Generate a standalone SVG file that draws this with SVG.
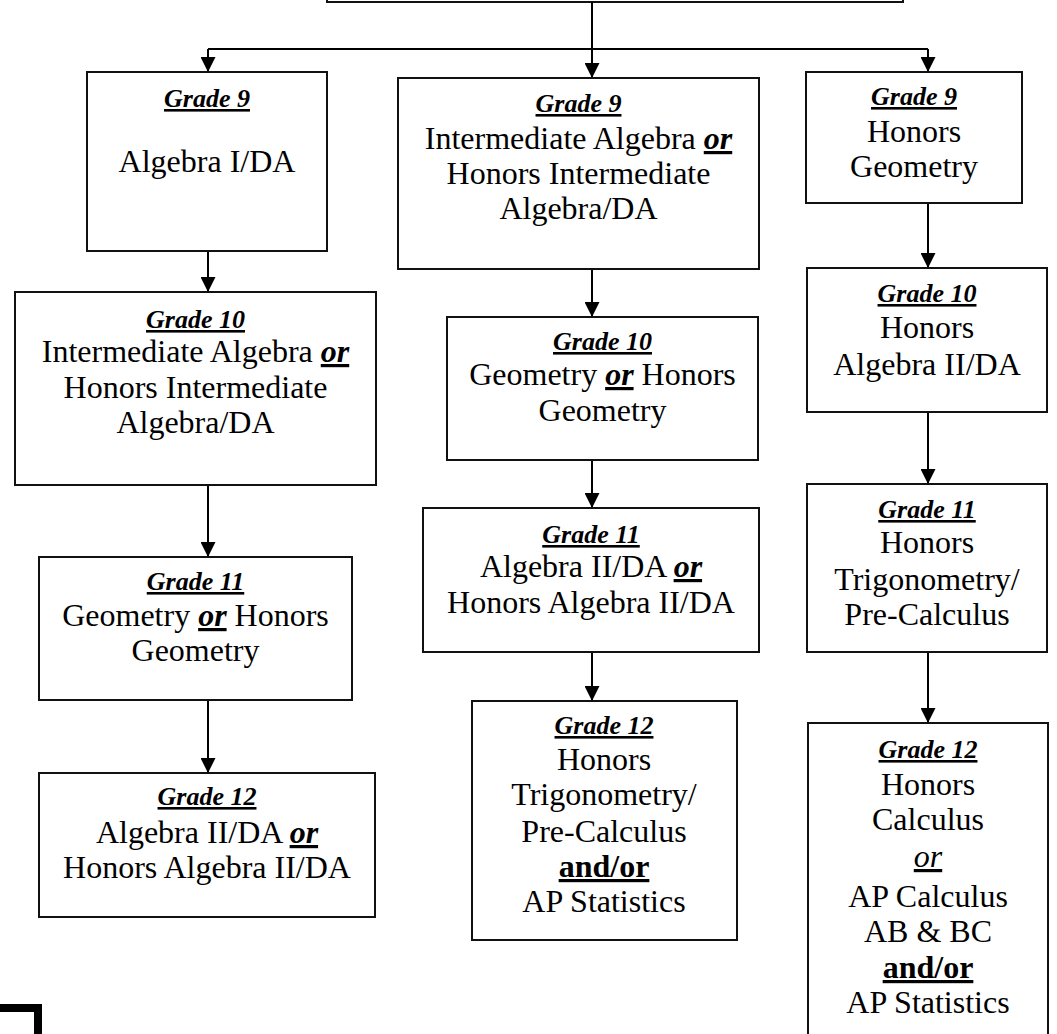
<svg xmlns="http://www.w3.org/2000/svg" width="1057" height="1034" viewBox="0 0 1057 1034">
<style>
.box{fill:#fff;stroke:#111;stroke-width:2}
.t{font-family:"Liberation Serif","Times New Roman",serif;font-size:32px;fill:#000;text-anchor:middle}
.h{font-weight:bold;font-style:italic;font-size:26px;text-decoration:underline}
.o{font-weight:bold;font-style:italic;text-decoration:underline}
.ao{font-weight:bold;text-decoration:underline}
.io{font-style:italic;text-decoration:underline}
.c{fill:none;stroke:#000;stroke-width:2}
</style>
<defs>
<marker id="ah" markerUnits="userSpaceOnUse" markerWidth="15" markerHeight="15" refX="15" refY="7.5" orient="auto">
<path d="M0,0 L15,7.5 L0,15 z" fill="#000"/>
</marker>
</defs>
<g id="top"><rect class="box" x="327" y="-50" width="576" height="52"/></g>
<g id="connectors">
<path class="c" d="M208,49 H928"/>
<path class="c" d="M592,2 V78" marker-end="url(#ah)"/>
<path class="c" d="M208,49 V72" marker-end="url(#ah)"/>
<path class="c" d="M928,49 V72" marker-end="url(#ah)"/>
<path class="c" d="M208,251 V292" marker-end="url(#ah)"/>
<path class="c" d="M208,485 V557" marker-end="url(#ah)"/>
<path class="c" d="M208,700 V773" marker-end="url(#ah)"/>
<path class="c" d="M592,269 V317" marker-end="url(#ah)"/>
<path class="c" d="M592,460 V508" marker-end="url(#ah)"/>
<path class="c" d="M592,652 V701" marker-end="url(#ah)"/>
<path class="c" d="M928,203 V268" marker-end="url(#ah)"/>
<path class="c" d="M928,412 V484" marker-end="url(#ah)"/>
<path class="c" d="M928,652 V723" marker-end="url(#ah)"/>
</g>
<g id="l9"><rect class="box" x="87" y="72" width="240" height="179"/>
<text class="t" x="207" y="107"><tspan class="h">Grade 9</tspan></text>
<text class="t" x="207" y="172">Algebra I/DA</text></g>
<g id="l10"><rect class="box" x="15" y="292" width="361" height="193"/>
<text class="t" x="195.5" y="328"><tspan class="h">Grade 10</tspan></text>
<text class="t" x="195.5" y="362">Intermediate Algebra <tspan class="o">or</tspan></text>
<text class="t" x="195.5" y="398">Honors Intermediate</text>
<text class="t" x="195.5" y="433">Algebra/DA</text></g>
<g id="l11"><rect class="box" x="39" y="557" width="313" height="143"/>
<text class="t" x="195.5" y="590"><tspan class="h">Grade 11</tspan></text>
<text class="t" x="195.5" y="626">Geometry <tspan class="o">or</tspan> Honors</text>
<text class="t" x="195.5" y="661">Geometry</text></g>
<g id="l12"><rect class="box" x="39" y="773" width="336" height="144"/>
<text class="t" x="207" y="805"><tspan class="h">Grade 12</tspan></text>
<text class="t" x="207" y="843">Algebra II/DA <tspan class="o">or</tspan></text>
<text class="t" x="207" y="878">Honors Algebra II/DA</text></g>
<g id="m9"><rect class="box" x="398" y="78" width="361" height="191"/>
<text class="t" x="578.5" y="112"><tspan class="h">Grade 9</tspan></text>
<text class="t" x="578.5" y="149">Intermediate Algebra <tspan class="o">or</tspan></text>
<text class="t" x="578.5" y="184">Honors Intermediate</text>
<text class="t" x="578.5" y="219">Algebra/DA</text></g>
<g id="m10"><rect class="box" x="447" y="317" width="311" height="143"/>
<text class="t" x="602.5" y="350"><tspan class="h">Grade 10</tspan></text>
<text class="t" x="602.5" y="385">Geometry <tspan class="o">or</tspan> Honors</text>
<text class="t" x="602.5" y="421">Geometry</text></g>
<g id="m11"><rect class="box" x="423" y="508" width="336" height="144"/>
<text class="t" x="591" y="543"><tspan class="h">Grade 11</tspan></text>
<text class="t" x="591" y="577">Algebra II/DA <tspan class="o">or</tspan></text>
<text class="t" x="591" y="613">Honors Algebra II/DA</text></g>
<g id="m12"><rect class="box" x="472" y="701" width="265" height="239"/>
<text class="t" x="604" y="734"><tspan class="h">Grade 12</tspan></text>
<text class="t" x="604" y="770">Honors</text>
<text class="t" x="604" y="805">Trigonometry/</text>
<text class="t" x="604" y="842">Pre-Calculus</text>
<text class="t" x="604" y="877"><tspan class="ao">and/or</tspan></text>
<text class="t" x="604" y="912">AP Statistics</text></g>
<g id="r9"><rect class="box" x="806" y="72" width="216" height="131"/>
<text class="t" x="914" y="105"><tspan class="h">Grade 9</tspan></text>
<text class="t" x="914" y="142">Honors</text>
<text class="t" x="914" y="177">Geometry</text></g>
<g id="r10"><rect class="box" x="807" y="268" width="240" height="144"/>
<text class="t" x="927" y="302"><tspan class="h">Grade 10</tspan></text>
<text class="t" x="927" y="338">Honors</text>
<text class="t" x="927" y="375">Algebra II/DA</text></g>
<g id="r11"><rect class="box" x="807" y="484" width="240" height="168"/>
<text class="t" x="927" y="518"><tspan class="h">Grade 11</tspan></text>
<text class="t" x="927" y="553">Honors</text>
<text class="t" x="927" y="590">Trigonometry/</text>
<text class="t" x="927" y="625">Pre-Calculus</text></g>
<g id="r12"><rect class="box" x="808" y="723" width="240" height="330"/>
<text class="t" x="928" y="758"><tspan class="h">Grade 12</tspan></text>
<text class="t" x="928" y="795">Honors</text>
<text class="t" x="928" y="830">Calculus</text>
<text class="t" x="928" y="867"><tspan class="io">or</tspan></text>
<text class="t" x="928" y="907">AP Calculus</text>
<text class="t" x="928" y="942">AB &amp; BC</text>
<text class="t" x="928" y="978"><tspan class="ao">and/or</tspan></text>
<text class="t" x="928" y="1013">AP Statistics</text></g>
<path d="M0,1008 H38 V1034" fill="none" stroke="#000" stroke-width="8"/>
</svg>
